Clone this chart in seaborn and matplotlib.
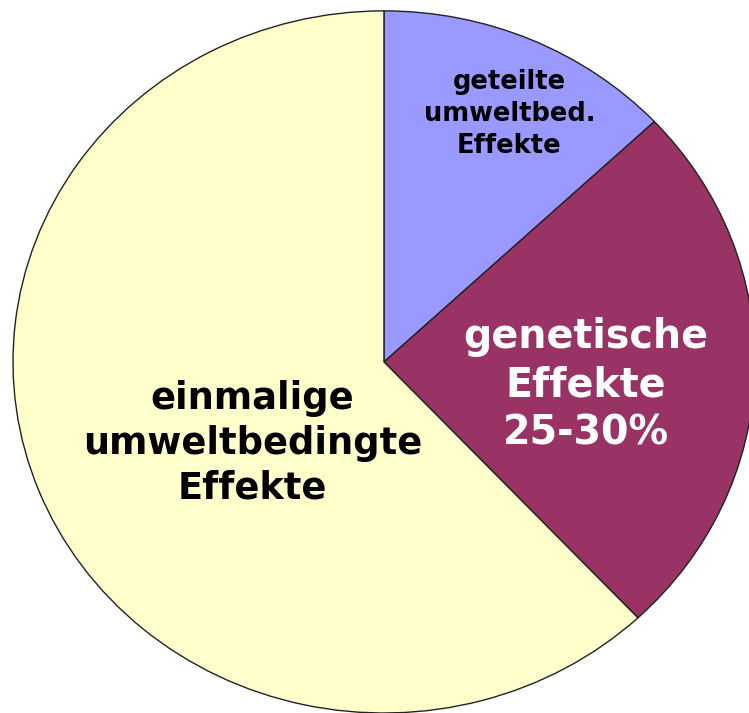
import matplotlib
matplotlib.use("Agg")
import matplotlib.pyplot as plt
import seaborn as sns

# slice shares (percent), clockwise from 12 o'clock
labels = ["geteilte\numweltbed.\nEffekte", "genetische\nEffekte\n25-30%", "einmalige\numweltbedingte\nEffekte"]
values = [13, 25, 62]
colors = ["#9999FF", "#993366", "#FFFFCC"]
text_colors = ["black", "white", "black"]
font_sizes = [18.5, 28.5, 26.5]
line_gaps = [1.3, 1.26, 1.27]
# label centres in pie units
label_pos = [(0.338, 0.707), (0.544, -0.066), (-0.354, -0.231)]

sns.set_style("white")
pal = sns.color_palette(colors)

fig = plt.figure(figsize=(7.49, 7.13), dpi=100)
ax = fig.add_axes([0, 0, 1, 1])

ax.pie(values, colors=pal, startangle=90, counterclock=False,
       wedgeprops=dict(edgecolor="#222222", linewidth=1.0))

for lab, (x, y), c, fs, ls in zip(labels, label_pos, text_colors, font_sizes, line_gaps):
    ax.text(x, y, lab, ha="center", va="center", color=c, fontsize=fs,
            fontweight="bold", family="DejaVu Sans", linespacing=ls)

# the original pie is slightly stretched horizontally and cut at the right/bottom
ax.set_aspect("auto")
ax.set_xlim(-1.035, 0.984)
ax.set_ylim(-1.0, 1.031)
ax.axis("off")

fig.savefig("out.png", dpi=100)
plt.close(fig)
